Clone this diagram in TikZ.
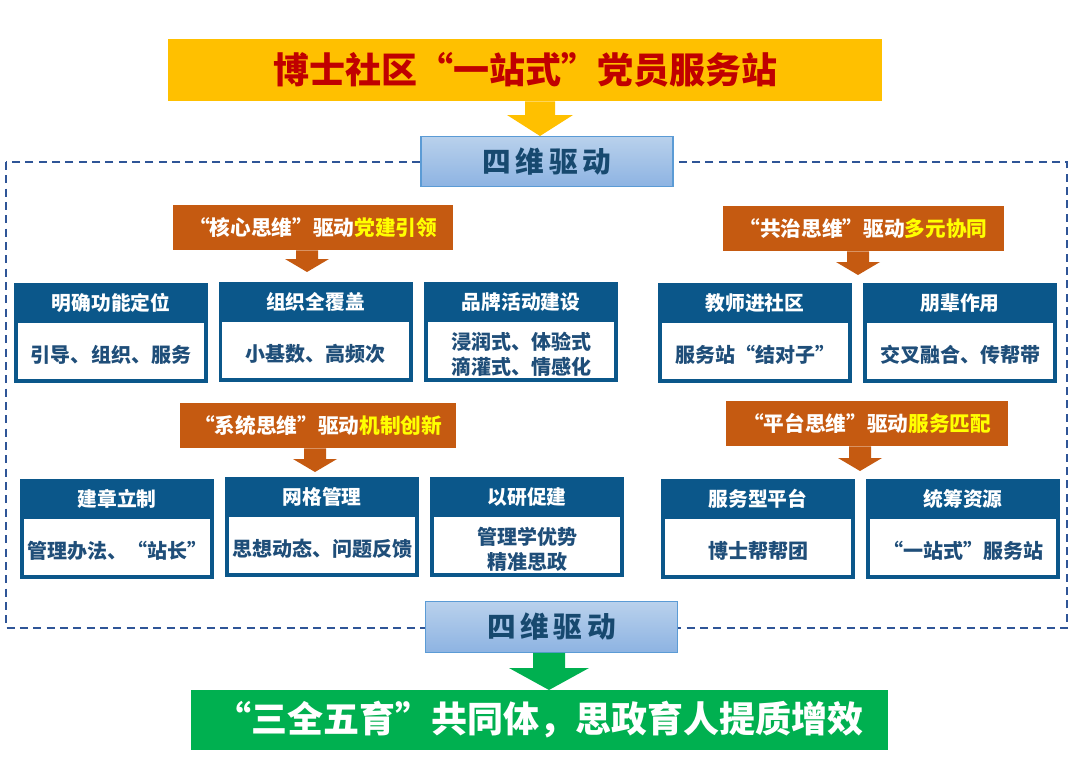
\documentclass[tikz,border=0pt]{standalone}
\usepackage{fontspec}
\setmainfont{Noto Sans CJK SC}
\usetikzlibrary{calc}
\definecolor{ttlyel}{HTML}{FFC000}
\definecolor{ttlred}{HTML}{C00000}
\definecolor{org}{HTML}{C55A11}
\definecolor{bdark}{HTML}{0B578A}
\definecolor{btext}{HTML}{1F4E79}
\definecolor{grn}{HTML}{00B050}
\definecolor{swtop}{HTML}{B9D1EC}
\definecolor{swbot}{HTML}{8DB3E2}
\definecolor{swborder}{HTML}{5B9BD5}
\definecolor{swtext}{HTML}{17496F}
\definecolor{dashc}{HTML}{2F5597}
\definecolor{hiyel}{HTML}{FFFF00}
\tikzset{
  every node/.style={font=\bfseries, inner sep=0pt},
  titlebox/.style={fill=ttlyel, text=ttlred, minimum width=535.5pt, minimum height=46.5pt, font=\bfseries\fontsize{27}{30}\selectfont},
  swbox/.style={draw=swborder, line width=0.8pt, top color=swtop, bottom color=swbot, text=swtext, minimum width=189pt, minimum height=38pt, font=\bfseries\fontsize{21.5}{24}\selectfont},
  resbox/.style={fill=grn, text=white, minimum width=522.75pt, minimum height=45pt, font=\bfseries\fontsize{27}{29}\selectfont},
  orgbox/.style={fill=org, text=white, minimum height=33.75pt, font=\bfseries\fontsize{15.5}{18}\selectfont},
  bout/.style={fill=bdark, minimum width=145.5pt, minimum height=75pt},
  bhead/.style={text=white, font=\bfseries\fontsize{14.8}{17}\selectfont},
  bbody/.style={text=btext, align=center, font=\bfseries\fontsize{15}{19}\selectfont},
  dashframe/.style={draw=dashc, line width=1.4pt, dash pattern=on 6pt off 4pt},
}
\newcommand{\bluebox}[5]{%
  \node[bout] (#1) at (#2,{#3+50}) {};
  \fill[white] ($(#1.south west)+(4,-4)$) rectangle ($(#1.north east)+(-4,40)$);
  \node[bhead] (#1-h) at ($(#1.north)+(0,20)$) {#4};
  \node[bbody] (#1-b) at ($(#1.south)+(0,-28)$) {#5};
}
% start, tip, shaft half width, head half width, head length, colour
\newcommand{\fatarrow}[6]{%
  \fill[#6] ($(#1)+(-#3,0)$) -- ($(#1)+(#3,0)$) -- ($(#2)+(#3,-#5)$) -- ($(#2)+(#4,-#5)$) -- (#2) -- ($(#2)+(-#4,-#5)$) -- ($(#2)+(-#3,-#5)$) -- cycle;
}
\begin{document}
\begin{tikzpicture}[x=0.75pt,y=-0.75pt]
\useasboundingbox (0,0) rectangle (1074,767);
\fill[white] (0,0) rectangle (1074,767);

\draw[dashframe] (6,162) rectangle (1067,628);

\node[titlebox] (title) at (525,70) {博士社区“一站式”党员服务站};
\node[swbox] (sw1) at (547,161.5) {\raisebox{-2pt}{四\hspace{3.5pt}维\hspace{3.5pt}驱\hspace{3.5pt}动}};
\node[swbox] (sw2) at (551.5,627) {\raisebox{-1pt}{四\hspace{3.5pt}维\hspace{3.5pt}驱\hspace{3.5pt}动}};
\node[resbox] (res) at (539.5,720) {“三全五育”共同体，思政育人提质增效};

\coordinate (ytip) at (540,136);
\coordinate (ys) at (title.south -| ytip);
\fatarrow{ys}{ytip}{15}{33}{21}{ttlyel}

\coordinate (gtip) at (549,690);
\coordinate (gs) at (sw2.south -| gtip);
\fatarrow{gs}{gtip}{16}{40}{22}{grn}

\node[orgbox, minimum width=210pt] (o1) at (313,227.5) {“核心思维”驱动\textcolor{hiyel}{党建引领}};
\node[orgbox, minimum width=210.75pt] (o2) at (863.5,228.5) {“共治思维”驱动\textcolor{hiyel}{多元协同}};
\node[orgbox, minimum width=207pt] (o3) at (318,425.5) {“系统思维”驱动\textcolor{hiyel}{机制创新}};
\node[orgbox, minimum width=211.5pt] (o4) at (867,423.5) {“平台思维”驱动\textcolor{hiyel}{服务匹配}};

\coordinate (t1) at (307,272); \coordinate (s1) at (o1.south -| t1);
\fatarrow{s1}{t1}{11}{22}{13}{org}
\coordinate (t2) at (858,275); \coordinate (s2) at (o2.south -| t2);
\fatarrow{s2}{t2}{11}{22}{13}{org}
\coordinate (t3) at (315,472); \coordinate (s3) at (o3.south -| t3);
\fatarrow{s3}{t3}{11}{22}{13}{org}
\coordinate (t4) at (860,471); \coordinate (s4) at (o4.south -| t4);
\fatarrow{s4}{t4}{11}{22}{13}{org}

\bluebox{b1}{111}{283}{明确功能定位}{引导、组织、服务}
\bluebox{b2}{315.5}{282}{组织全覆盖}{小基数、高频次}
\bluebox{b3}{521}{282}{品牌活动建设}{浸润式、体验式\\滴灌式、情感化}
\bluebox{b4}{755}{283}{教师进社区}{服务站“结对子”}
\bluebox{b5}{960}{283}{朋辈作用}{交叉融合、传帮带}

\bluebox{b6}{117}{479}{建章立制}{管理办法、“站长”}
\bluebox{b7}{322}{477}{网格管理}{思想动态、问题反馈}
\bluebox{b8}{527}{477}{以研促建}{管理学优势\\精准思政}
\bluebox{b9}{758}{479}{服务型平台}{博士帮帮团}
\bluebox{b10}{963}{479}{统筹资源}{“一站式”服务站}
\end{tikzpicture}
\end{document}
